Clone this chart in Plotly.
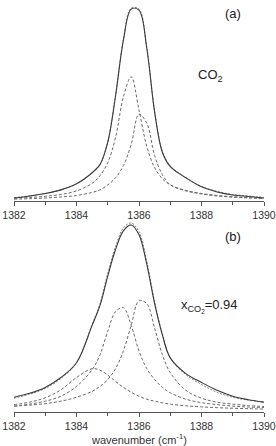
import plotly.graph_objects as go

# wavenumber grid (cm^-1)
wn = [1382, 1382.5, 1383, 1383.5, 1384, 1384.5, 1384.75, 1385, 1385.25, 1385.5,
      1385.75, 1386, 1386.25, 1386.5, 1386.75, 1387, 1387.5, 1388, 1388.5, 1389,
      1389.5, 1390]

# panel (a): pure CO2
a_measured = [3, 5, 7.5, 11, 17, 28, 36, 58, 104, 159, 190, 189, 151, 88, 48, 34, 23, 14, 9, 6, 4.5, 3]
a_fit_sum  = [3.5, 5, 7.5, 11, 17, 28, 36, 59, 105, 160, 191, 190, 152, 89, 49, 35, 23, 14.5, 9.5, 6.5, 5, 3.5]
a_comp1    = [2.8, 3.5, 4.7, 6.5, 10, 17.5, 25, 38, 63, 103, 123, 90, 54, 33, 22, 16, 10.5, 7.5, 5.5, 4.3, 3.4, 2.8]
a_comp2    = [1.8, 2.3, 3, 4, 5.5, 8.5, 11, 16, 23, 35, 56, 86, 77, 45, 26, 16, 10, 7, 5, 3.8, 3, 2.5]

# panel (b): x_CO2 = 0.94
b_measured = [15, 19, 25, 35, 50, 88, 108, 138, 165, 184, 190, 180, 150, 110, 78, 55, 39, 30, 22, 16, 12.5, 10]
b_fit_sum  = [14, 18, 24, 34, 50, 89, 110, 141, 168, 187, 192, 183, 153, 112, 79, 55, 38, 28, 20, 15, 12, 10]
b_comp1    = [7.5, 10, 14.5, 22.5, 35, 44, 42.5, 37.5, 31, 25, 20, 16, 13, 11, 9.3, 8, 6.3, 5.2, 4.4, 3.8, 3.4, 3]
b_comp2    = [6, 8, 11, 16, 26, 43, 58, 82, 102, 106, 88, 62, 44, 33, 25, 19.5, 13, 9.5, 7.5, 6, 5, 4.5]
b_comp3    = [6, 7, 8.5, 11, 15, 21, 26, 33, 44, 62, 88, 113, 110, 85, 58, 40, 22, 14, 10, 8, 6.5, 5.5]

x_ticks = [1382, 1384, 1386, 1388, 1390]

SOLID = dict(color="#3a3a3a", width=1.1, shape="spline")
DASH = dict(color="#6a6a6a", width=1, dash="3px,2px", shape="spline")
DOT = dict(color="#808080", width=1, dash="2px,1.5px", shape="spline")

fig = go.Figure()

def add(y, line, xa, ya):
    fig.add_trace(go.Scatter(x=wn, y=y, mode="lines", line=line,
                             xaxis=xa, yaxis=ya, showlegend=False, hoverinfo="skip"))

add(a_comp1, DASH, "x", "y")
add(a_comp2, DASH, "x", "y")
add(a_fit_sum, DOT, "x", "y")
add(a_measured, SOLID, "x", "y")

add(b_comp1, DASH, "x2", "y2")
add(b_comp2, DASH, "x2", "y2")
add(b_comp3, DASH, "x2", "y2")
add(b_fit_sum, DOT, "x2", "y2")
add(b_measured, SOLID, "x2", "y2")

FONT = "Liberation Sans, Arial, sans-serif"
xcommon = dict(range=[1382, 1390], tickvals=x_ticks, ticktext=[str(t) for t in x_ticks],
               showline=True, linecolor="#555", linewidth=1, ticks="outside", ticklen=4,
               tickcolor="#555", tickwidth=1, showgrid=False, zeroline=False,
               ticklabeloverflow="allow",
               tickfont=dict(family=FONT, size=10.5, color="#333"),
               minor=dict(tickvals=[1383, 1385, 1387, 1389], ticks="outside", ticklen=3,
                          tickcolor="#555", tickwidth=1, showgrid=False))
ycommon = dict(visible=False, showgrid=False, zeroline=False)

fig.update_layout(
    width=276, height=446,
    margin=dict(l=14, r=12, t=0, b=34),
    paper_bgcolor="white", plot_bgcolor="white",
    xaxis=dict(anchor="y", **xcommon),
    yaxis=dict(domain=[0.5121, 1.0], range=[0, 199], **ycommon),
    xaxis2=dict(anchor="y2", **xcommon),
    yaxis2=dict(domain=[0, 0.4612], range=[0, 193], **ycommon),
    annotations=[
        dict(text="(a)", x=1389.0, y=186, xref="x", yref="y", showarrow=False,
             font=dict(family=FONT, size=13, color="#222")),
        dict(text="CO<sub>2</sub>", x=1388.3, y=124, xref="x", yref="y", showarrow=False,
             font=dict(family=FONT, size=13, color="#222")),
        dict(text="(b)", x=1389.0, y=178, xref="x2", yref="y2", showarrow=False,
             font=dict(family=FONT, size=13, color="#222")),
        dict(text="x<sub>CO<sub>2</sub></sub>=0.94", x=1388.25, y=108, xref="x2", yref="y2",
             showarrow=False, font=dict(family=FONT, size=13, color="#222")),
        dict(text="wavenumber (cm<sup>-1</sup>)", x=0.5, y=-0.0655, xref="paper", yref="paper",
             xanchor="center", yanchor="middle", showarrow=False,
             font=dict(family=FONT, size=11, color="#333")),
    ],
)

fig.write_html("out.html")
